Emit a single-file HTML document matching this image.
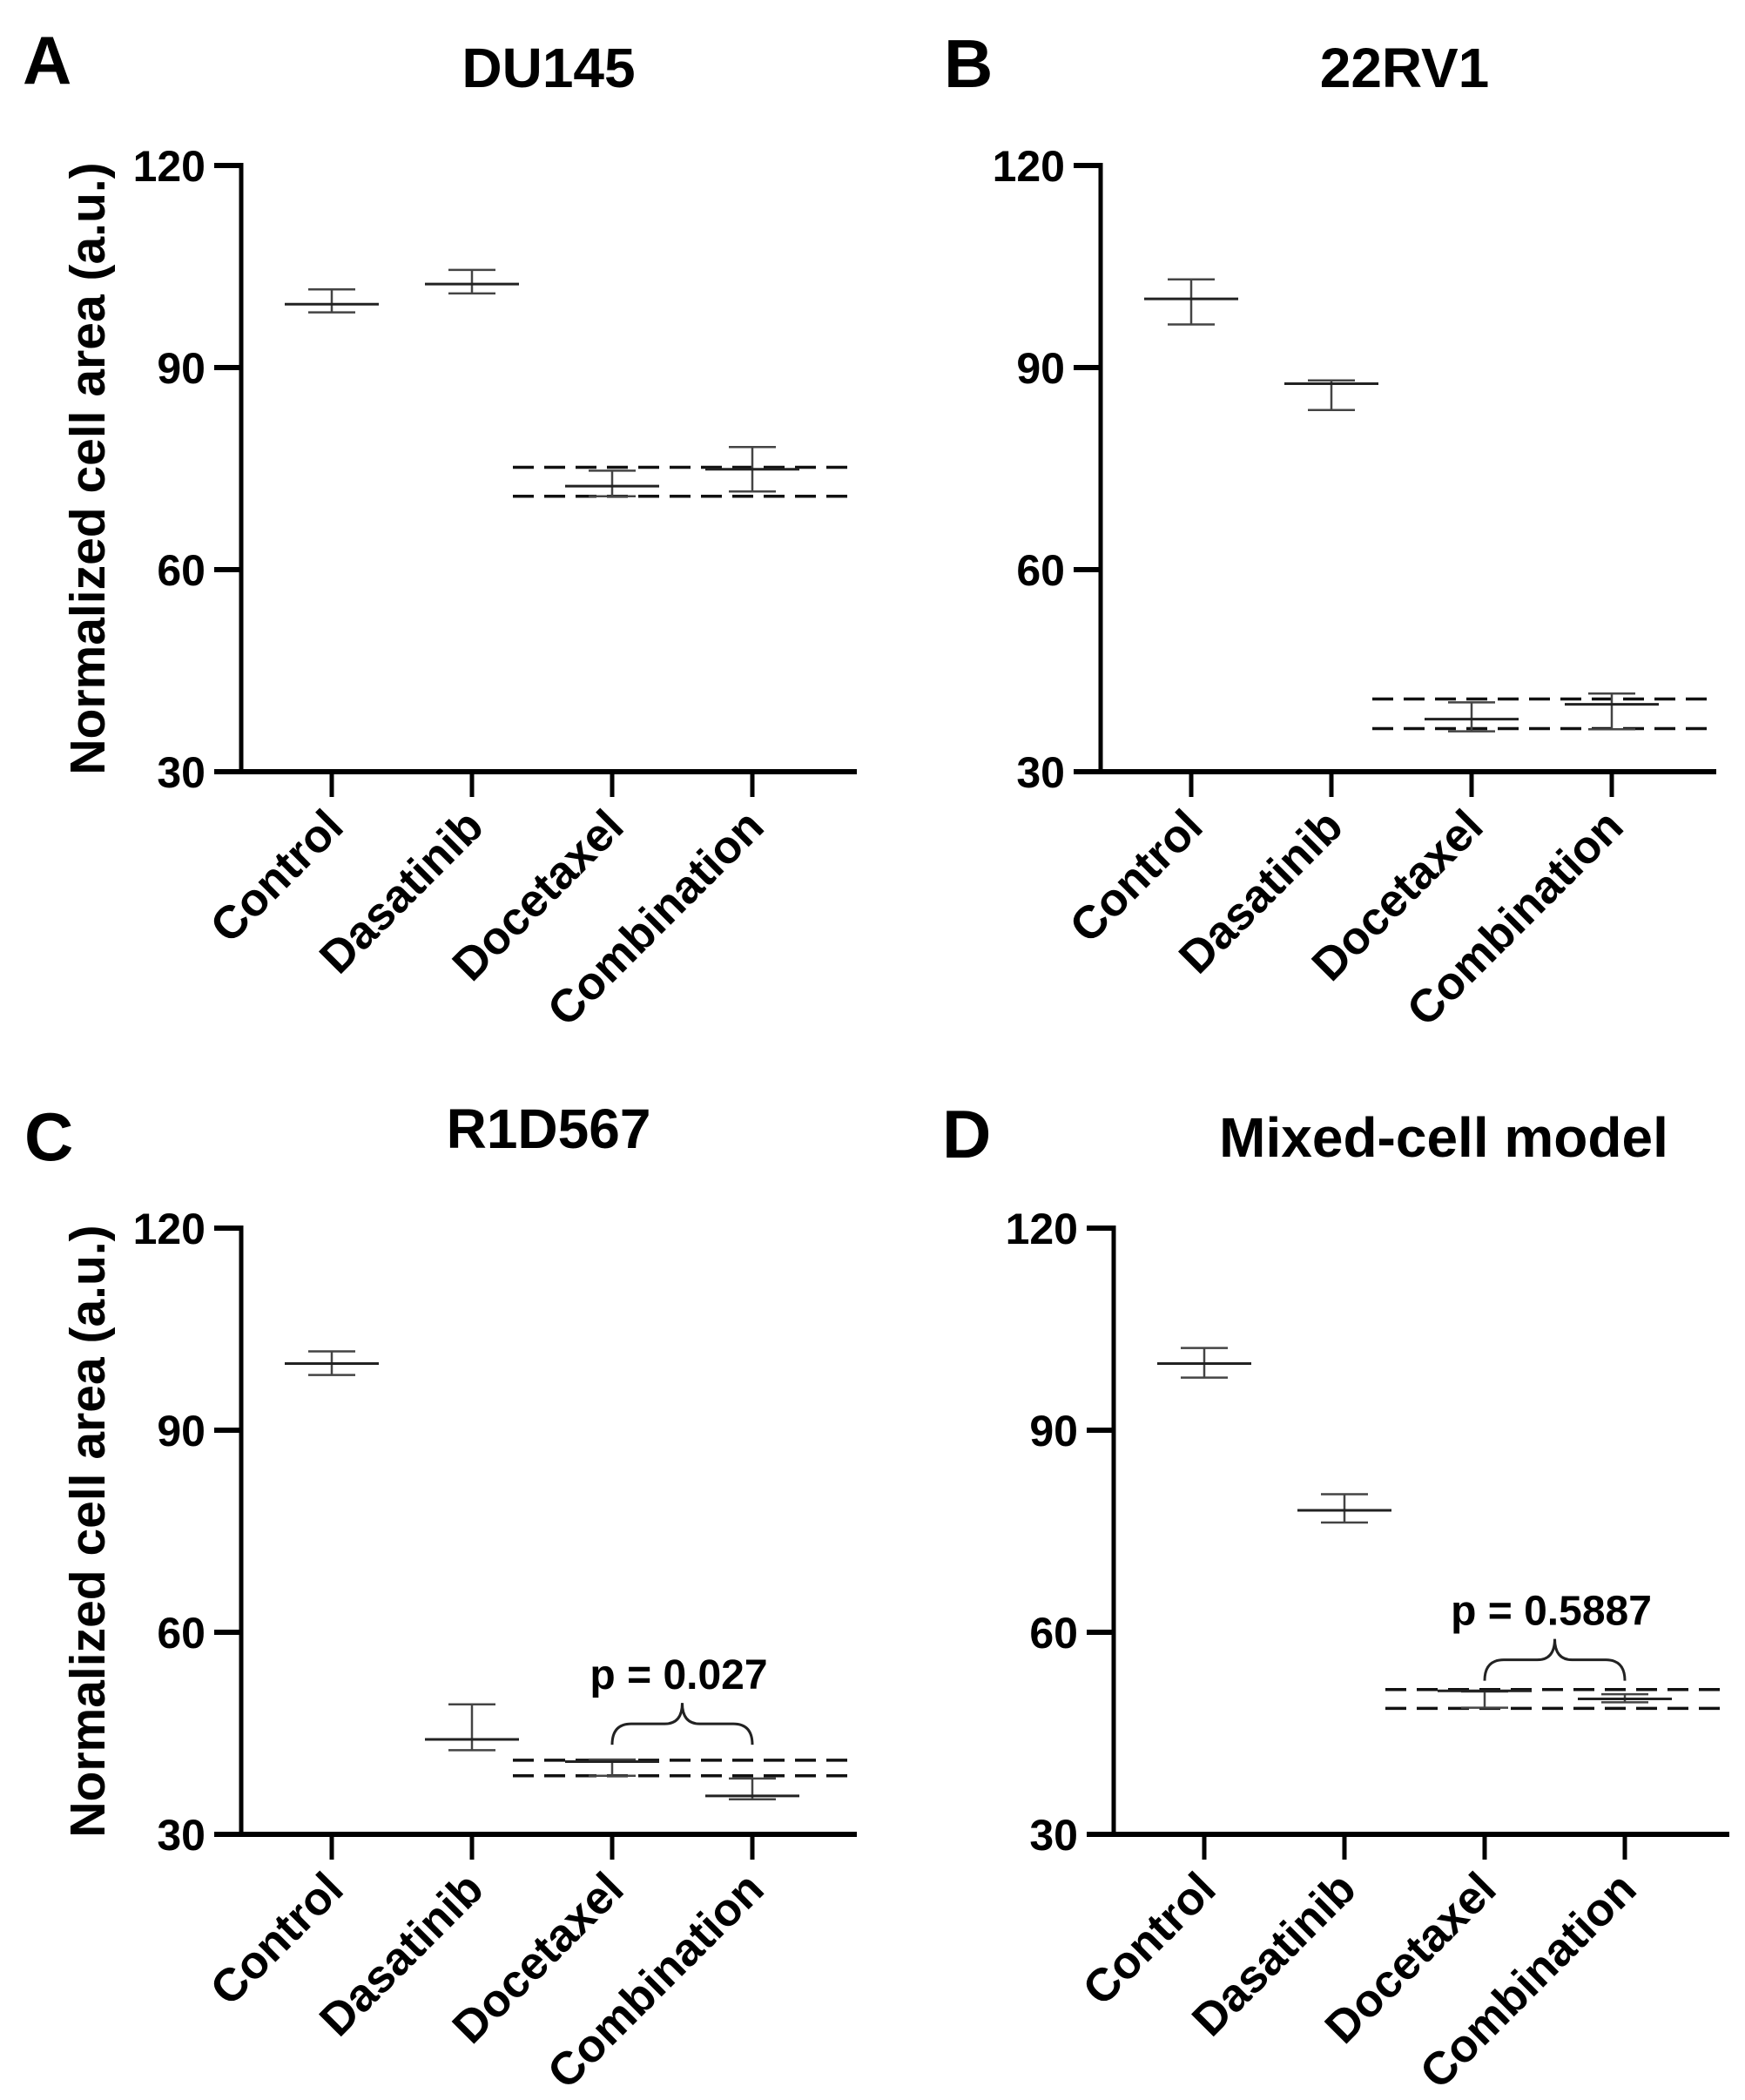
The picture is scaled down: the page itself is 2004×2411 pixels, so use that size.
<!DOCTYPE html>
<html><head><meta charset="utf-8"><style>
html,body{margin:0;padding:0;background:#fff;}
svg{display:block;font-family:"Liberation Sans",Arial,sans-serif;font-weight:bold;}
</style></head><body>
<svg id="fig" width="2004" height="2411" viewBox="0 0 2004 2411" xmlns="http://www.w3.org/2000/svg"></svg>
<script>
const categories = ["Control","Dasatinib","Docetaxel","Combination"];
const yTicks = [30,60,90,120];
const titles = ["DU145","22RV1","R1D567","Mixed-cell model"];
const letters = ["A","B","C","D"];
const meanA = [99.4,102.4,72.4,74.9];
const hiA = [101.6,104.5,74.7,78.2];
const loA = [98.2,101.0,70.9,71.6];
const dashA = [75.2,70.9];
const meanB = [100.2,87.6,37.8,40.0];
const hiB = [103.1,88.1,40.3,41.6];
const loB = [96.4,83.7,36.0,36.3];
const dashB = [40.8,36.4];
const meanC = [99.9,44.1,40.8,35.7];
const hiC = [101.7,49.3,41.1,38.3];
const loC = [98.2,42.5,38.7,35.2];
const dashC = [41.0,38.7];
const meanD = [99.9,78.1,51.3,50.1];
const hiD = [102.2,80.5,51.2,50.8];
const loD = [97.8,76.3,48.8,49.6];
const dashD = [51.5,48.7];
const pLabels = [null,null,"p = 0.027","p = 0.5887"];
const bracketBase = [null,null,43.3,52.8];

const NS="http://www.w3.org/2000/svg";
const svg=document.getElementById('fig');
function el(tag,attrs,parent){const e=document.createElementNS(NS,tag);for(const k in attrs)e.setAttribute(k,attrs[k]);(parent||svg).appendChild(e);return e;}

const panels=[
 {ax:277,ay:190,tx:630,ty:100,lx:26,ly:96,m:meanA,h:hiA,l:loA,d:dashA,ylab:true,name:'panel-a'},
 {ax:1264,ay:190,tx:1613,ty:100,lx:1084,ly:100,m:meanB,h:hiB,l:loB,d:dashB,ylab:false,name:'panel-b'},
 {ax:277,ay:1410,tx:630,ty:1318,lx:28,ly:1332,m:meanC,h:hiC,l:loC,d:dashC,ylab:true,name:'panel-c'},
 {ax:1279,ay:1410,tx:1658,ty:1328,lx:1082,ly:1329,m:meanD,h:hiD,l:loD,d:dashD,ylab:false,name:'panel-d'}
];
const H=696, W=707, catOff=[104,265,426,587];

panels.forEach((p,i)=>{
  const g=el('g',{});
  
  
  const y=v=>p.ay+H-(v-30)/90*H;
  const x=c=>p.ax+catOff[c];
  const y0=p.ay+H;
  const L=el('text',{x:p.lx,y:p.ly,'font-size':78},g);L.textContent=letters[i];
  
  
  const T=el('text',{x:p.tx,y:p.ty,'font-size':64,'text-anchor':'middle'},g);T.textContent=titles[i];
  
  
  const ya=el('line',{x1:p.ax,y1:p.ay-3,x2:p.ax,y2:y0+3,stroke:'#000','stroke-width':5},g);
  
  
  const xa=el('line',{x1:p.ax-2,y1:y0,x2:p.ax+W,y2:y0,stroke:'#000','stroke-width':6},g);
  
  
  yTicks.forEach(t=>{
    el('line',{x1:p.ax-31,y1:y(t),x2:p.ax,y2:y(t),stroke:'#000','stroke-width':6},g);
    const tl=el('text',{x:p.ax-41,y:y(t)+18,'font-size':50,'text-anchor':'end'},g);tl.textContent=t;
    
    
  });
  categories.forEach((c,k)=>{
    el('line',{x1:x(k),y1:y0,x2:x(k),y2:y0+29,stroke:'#000','stroke-width':5},g);
    const cl=el('text',{transform:`translate(${x(k)+16},${y0+66}) rotate(-45)`,'font-size':53,'text-anchor':'end'},g);cl.textContent=c;
    
    
  });
  if(p.ylab){
    const yl=el('text',{transform:`translate(120,${p.ay+H/2}) rotate(-90)`,'font-size':57,'text-anchor':'middle'},g);
    yl.textContent='Normalized cell area (a.u.)';
    
    
  }
  p.d.forEach(v=>{
    const dl=el('line',{x1:p.ax+312,y1:y(v),x2:p.ax+W,y2:y(v),stroke:'#111','stroke-width':3.5,'stroke-dasharray':'24,12'},g);
    
    
  });
  categories.forEach((c,k)=>{
    const eg=el('g',{stroke:'#444','stroke-width':2.5},g);
    
    
    el('line',{x1:x(k),y1:y(p.h[k]),x2:x(k),y2:y(p.l[k])},eg);
    el('line',{x1:x(k)-27,y1:y(p.h[k]),x2:x(k)+27,y2:y(p.h[k])},eg);
    el('line',{x1:x(k)-27,y1:y(p.l[k]),x2:x(k)+27,y2:y(p.l[k])},eg);
    const ml=el('line',{x1:x(k)-54,y1:y(p.m[k]),x2:x(k)+54,y2:y(p.m[k]),stroke:'#222','stroke-width':3},g);
    
    
  });
  if(pLabels[i]){
    const x1=x(2),x2=x(3),xm=(x1+x2)/2;
    const yb=y(bracketBase[i]), yt=yb-24, yp=yb-48;
    const br=el('path',{d:`M${x1},${yb} Q${x1},${yt} ${x1+22},${yt} L${xm-20},${yt} Q${xm},${yt} ${xm},${yp} Q${xm},${yt} ${xm+20},${yt} L${x2-22},${yt} Q${x2},${yt} ${x2},${yb}`,fill:'none',stroke:'#222','stroke-width':3},g);
    
    
    const pt=el('text',{x:xm-4,y:yp-16,'font-size':48,'text-anchor':'middle'},g);pt.textContent=pLabels[i];
    
    
  }
});
</script>
</body></html>
